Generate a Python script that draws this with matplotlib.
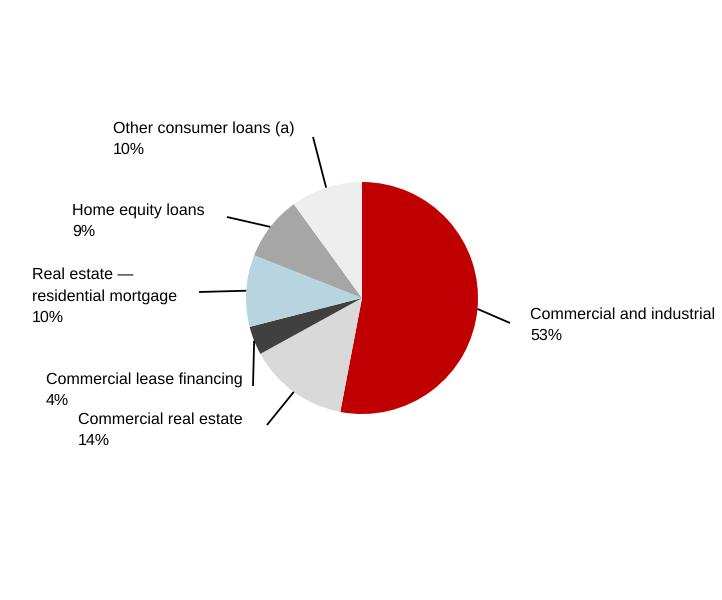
import numpy as np
import matplotlib.pyplot as plt

plt.rcParams['font.family'] = ['Liberation Sans', 'DejaVu Sans']
plt.rcParams['text.hinting'] = 'no_hinting'
plt.rcParams['text.hinting_factor'] = 1

labels = ['Commercial and industrial', 'Commercial real estate', 'Commercial lease financing',
          'Real estate \u2014\nresidential mortgage', 'Home equity loans', 'Other consumer loans (a)']
shares = [53, 14, 4, 10, 9, 10]
colors = ['#C00000', '#D9D9D9', '#404040', '#B9D4E1', '#A6A6A6', '#EEEEEE']

# layout in pixel coords (y down): leader line outer end, label top-left
line_ends = [(510, 323), (267, 425), (253, 386), (199, 292), (227, 217), (313, 137)]
label_pos = [(530, 307), (78, 412), (46, 372), (32, 267), (72, 203), (113, 121)]

W, H = 722, 600
cx, cy, r = 362, 298, 116

fig = plt.figure(figsize=(W / 100, H / 100), dpi=100)
ax = fig.add_axes([0, 0, 1, 1])
ax.pie(shares, colors=colors, startangle=90, counterclock=False,
       center=(cx, H - cy), radius=r, wedgeprops=dict(linewidth=0))
ax.set_xlim(0, W)
ax.set_ylim(0, H)
ax.axis('off')

total = sum(shares)
cum = np.cumsum([0] + shares)
for i, lab in enumerate(labels):
    mid = (cum[i] + shares[i] / 2) / total * 2 * np.pi
    # clockwise from top
    px = cx + r * np.sin(mid)
    py = cy - r * np.cos(mid)
    ex, ey = line_ends[i]
    ax.plot([px, ex], [H - py, H - ey], color='black', lw=1.3, solid_capstyle='butt')
    tx, ty = label_pos[i]
    ax.text(tx, H - ty, f'{lab}\n{shares[i]}%', ha='left', va='top',
            fontsize=11.5, linespacing=1.58, color='black')

fig.savefig('out.png', dpi=100)
